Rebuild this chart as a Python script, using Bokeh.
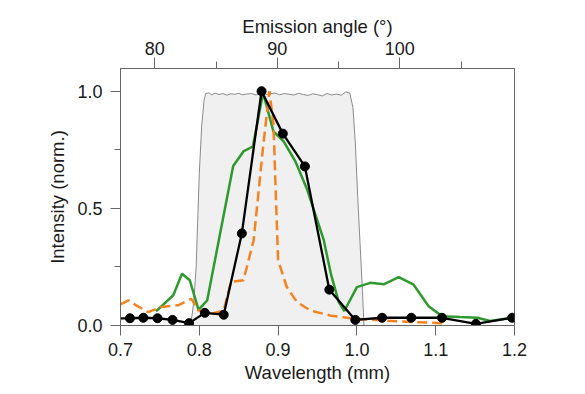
from bokeh.plotting import figure
from bokeh.models import Range1d, LinearAxis, FixedTicker, NumeralTickFormatter
from bokeh.embed import file_html
from bokeh.resources import INLINE

# ---- data ----
gray_x = [0.789, 0.793, 0.796, 0.798, 0.800, 0.803, 0.806, 0.808,
          0.812, 0.816, 0.820, 0.825, 0.830, 0.835, 0.840, 0.845, 0.850, 0.855,
          0.860, 0.866, 0.872, 0.878, 0.884, 0.890, 0.896, 0.902, 0.908, 0.914,
          0.920, 0.926, 0.932, 0.938, 0.944, 0.950, 0.956, 0.962, 0.968, 0.974,
          0.980, 0.986, 0.991,
          0.995, 0.998, 1.001, 1.004, 1.007, 1.009]
gray_y = [0.0, 0.10, 0.25, 0.45, 0.65, 0.85, 0.96, 0.99,
          0.993, 0.984, 0.992, 0.986, 0.990, 0.983, 0.989, 0.987, 0.991, 0.985,
          0.988, 0.990, 0.984, 0.991, 0.986, 0.989, 0.992, 0.985, 0.990, 0.987,
          0.984, 0.991, 0.986, 0.982, 0.989, 0.985, 0.980, 0.990, 0.984, 0.988,
          0.983, 0.997, 0.992,
          0.93, 0.78, 0.55, 0.35, 0.15, 0.0]

green_x = [0.745, 0.767, 0.778, 0.788, 0.799, 0.810, 0.843, 0.856, 0.868, 0.881,
           0.894, 0.907, 0.922, 0.937, 0.958, 0.967, 0.977, 0.984, 1.000, 1.017,
           1.034, 1.053, 1.072, 1.091, 1.108, 1.131, 1.153, 1.169, 1.200]
green_y = [0.060, 0.129, 0.221, 0.193, 0.067, 0.107, 0.681, 0.743, 0.764, 0.993,
           0.829, 0.786, 0.700, 0.579, 0.364, 0.220, 0.100, 0.062, 0.164, 0.182,
           0.176, 0.206, 0.174, 0.082, 0.040, 0.036, 0.033, 0.019, 0.035]

orange_x = [0.700, 0.710, 0.720, 0.735, 0.752, 0.773, 0.790, 0.799, 0.816, 0.831,
            0.840, 0.856, 0.869, 0.881, 0.889, 0.894, 0.900, 0.911, 0.924, 0.941,
            0.966, 0.996, 1.050, 1.108]
orange_y = [0.090, 0.107, 0.086, 0.057, 0.079, 0.086, 0.114, 0.064, 0.050, 0.064,
            0.186, 0.193, 0.364, 0.764, 1.000, 0.864, 0.279, 0.164, 0.100, 0.064,
            0.043, 0.029, 0.018, 0.010]

black_x = [0.692, 0.712, 0.729, 0.747, 0.766, 0.787, 0.807, 0.831, 0.854, 0.879,
           0.906, 0.934, 0.965, 0.998, 1.032, 1.069, 1.108, 1.151, 1.197]
black_y = [0.030, 0.031, 0.033, 0.031, 0.024, 0.010, 0.054, 0.046, 0.393, 1.000,
           0.819, 0.679, 0.153, 0.024, 0.033, 0.033, 0.033, 0.007, 0.033]

x_ticks = [0.7, 0.8, 0.9, 1.0, 1.1, 1.2]
y_ticks = [0.0, 0.5, 1.0]
y_minor = [0.25, 0.75]
angle_ticks = [80, 90, 100]
angle_minor = [85, 95, 105]

FONT = "Liberation Sans"
AX = "#666666"
TXT = "#1a1a1a"

p = figure(width=560, height=390, output_backend="svg", toolbar_location=None,
           x_range=Range1d(0.7, 1.2), y_range=Range1d(0.0, 1.097),
           min_border_left=120, min_border_right=46, min_border_top=68,
           min_border_bottom=65, x_axis_label="Wavelength (mm)",
           y_axis_label="Intensity (norm.)")
p.extra_x_ranges = {"angle": Range1d(77.2, 109.36)}
p.xgrid.visible = False
p.ygrid.visible = False
p.outline_line_color = AX
p.outline_line_width = 1
p.background_fill_color = "white"
p.border_fill_color = "white"

p.patch(gray_x, gray_y, fill_color="#f0f0f0", line_color="#8a8a8a", line_width=1)
p.line(green_x, green_y, line_color="#2e9a2e", line_width=2.5)
p.line(orange_x, orange_y, line_color="#f5821f", line_width=2.5, line_dash="10 5")
p.line(black_x, black_y, line_color="black", line_width=2.3)
p.scatter(black_x, black_y, size=9, fill_color="black", line_color="black")

def style(ax, tick_out, minor_out, label_standoff, axis_standoff):
    ax.axis_line_color = AX
    ax.major_tick_line_color = AX
    ax.minor_tick_line_color = AX
    ax.major_tick_in = 0
    ax.minor_tick_in = 0
    ax.major_tick_out = tick_out
    ax.minor_tick_out = minor_out
    ax.major_label_text_font = FONT
    ax.major_label_text_font_size = "18px"
    ax.major_label_text_color = TXT
    ax.axis_label_text_font = FONT
    ax.axis_label_text_font_size = "18.5px"
    ax.axis_label_text_font_style = "normal"
    ax.axis_label_text_color = TXT
    ax.major_label_standoff = label_standoff
    ax.axis_label_standoff = axis_standoff

xa = p.xaxis[0]
xa.ticker = FixedTicker(ticks=x_ticks, minor_ticks=[])
xa.formatter = NumeralTickFormatter(format="0.0")
style(xa, 10, 0, 7, 3)

ya = p.yaxis[0]
ya.ticker = FixedTicker(ticks=y_ticks, minor_ticks=y_minor)
ya.formatter = NumeralTickFormatter(format="0.0")
style(ya, 10, 6, 8, 6)

top = LinearAxis(x_range_name="angle", axis_label="Emission angle (°)",
                 ticker=FixedTicker(ticks=angle_ticks, minor_ticks=angle_minor))
style(top, 11, 7, 3, 2)
p.add_layout(top, "above")

open("out.html", "w").write(file_html(p, INLINE))
